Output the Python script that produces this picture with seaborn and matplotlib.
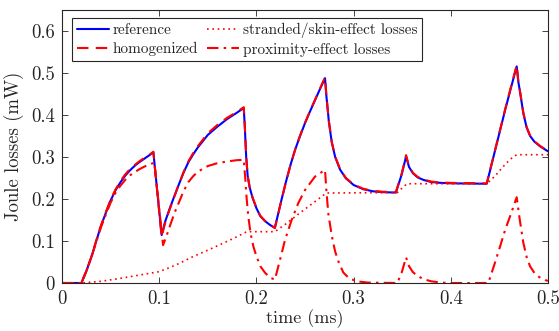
import matplotlib
matplotlib.use("Agg")
import matplotlib.pyplot as plt
import seaborn as sns
import pandas as pd

# time axis (ms) and losses (mW) for the total Joule losses
t_total = [0, 0.02, 0.025, 0.03, 0.035, 0.04, 0.045, 0.05, 0.055, 0.06, 0.065,
           0.07, 0.075, 0.08, 0.085, 0.09, 0.094, 0.1025, 0.106, 0.11, 0.115,
           0.12, 0.125, 0.13, 0.135, 0.14, 0.15, 0.16, 0.17, 0.18, 0.187,
           0.188, 0.1895, 0.191, 0.193, 0.196, 0.2, 0.204, 0.209, 0.214, 0.219,
           0.225, 0.23, 0.235, 0.24, 0.245, 0.25, 0.255, 0.26, 0.265, 0.2706,
           0.272, 0.2745, 0.2775, 0.281, 0.286, 0.292, 0.3, 0.31, 0.32, 0.33,
           0.3435, 0.3495, 0.354, 0.357, 0.361, 0.366, 0.372, 0.38, 0.39, 0.4,
           0.437, 0.445, 0.4506, 0.456, 0.462, 0.4678, 0.4695, 0.4712, 0.4746,
           0.478, 0.4815, 0.486, 0.4918, 0.5]
reference = [0, 0, 0.028, 0.060, 0.098, 0.135, 0.166, 0.196, 0.220, 0.239, 0.255,
             0.268, 0.279, 0.288, 0.296, 0.304, 0.311, 0.114, 0.145, 0.172, 0.203,
             0.233, 0.262, 0.287, 0.306, 0.323, 0.352, 0.372, 0.390, 0.405, 0.416,
             0.375, 0.300, 0.255, 0.228, 0.203, 0.178, 0.159, 0.147, 0.138, 0.131,
             0.190, 0.237, 0.280, 0.318, 0.350, 0.380, 0.407, 0.433, 0.459, 0.487,
             0.445, 0.385, 0.335, 0.300, 0.270, 0.249, 0.233, 0.223, 0.218, 0.216,
             0.215, 0.258, 0.301, 0.276, 0.261, 0.251, 0.245, 0.240, 0.238, 0.237,
             0.236, 0.310, 0.362, 0.412, 0.465, 0.515, 0.478, 0.455, 0.404,
             0.370, 0.350, 0.336, 0.325, 0.313]
homogenized = [0, 0, 0.029, 0.061, 0.099, 0.136, 0.168, 0.198, 0.222, 0.242, 0.258,
               0.271, 0.281, 0.290, 0.298, 0.305, 0.312, 0.110, 0.142, 0.170, 0.202,
               0.233, 0.263, 0.289, 0.309, 0.326, 0.356, 0.376, 0.393, 0.407, 0.418,
               0.378, 0.302, 0.256, 0.229, 0.204, 0.179, 0.160, 0.147, 0.138, 0.131,
               0.189, 0.236, 0.280, 0.318, 0.351, 0.381, 0.408, 0.434, 0.460, 0.489,
               0.447, 0.386, 0.336, 0.301, 0.271, 0.250, 0.234, 0.224, 0.219, 0.217,
               0.216, 0.260, 0.304, 0.278, 0.262, 0.252, 0.246, 0.241, 0.239, 0.238,
               0.237, 0.311, 0.363, 0.414, 0.467, 0.518, 0.480, 0.456, 0.405,
               0.371, 0.351, 0.337, 0.326, 0.314]

# stranded / skin-effect part
t_strand = [0, 0.02, 0.04, 0.06, 0.08, 0.1, 0.11, 0.12, 0.135, 0.15, 0.169, 0.18,
            0.19, 0.219, 0.23, 0.245, 0.26, 0.272, 0.345, 0.35, 0.355, 0.437,
            0.445, 0.454, 0.461, 0.4678, 0.5]
strand = [0, 0, 0.004, 0.011, 0.019, 0.027, 0.036, 0.046, 0.063, 0.078, 0.098, 0.110,
          0.122, 0.122, 0.140, 0.167, 0.193, 0.214, 0.215, 0.226, 0.236, 0.236,
          0.253, 0.277, 0.294, 0.305, 0.305]

# proximity-effect part
t_prox = [0, 0.02, 0.025, 0.03, 0.035, 0.04, 0.045, 0.05, 0.055, 0.06, 0.065, 0.07,
          0.075, 0.08, 0.085, 0.09, 0.095, 0.104, 0.108, 0.112, 0.116, 0.12, 0.125,
          0.13, 0.135, 0.14, 0.15, 0.16, 0.17, 0.18, 0.187, 0.1885, 0.19, 0.1917,
          0.194, 0.197, 0.2, 0.204, 0.209, 0.214, 0.219, 0.2243, 0.2294, 0.2363,
          0.2431, 0.25, 0.2603, 0.2706, 0.272, 0.274, 0.2775, 0.281, 0.2843, 0.2894,
          0.295, 0.303, 0.315, 0.345, 0.3495, 0.354, 0.357, 0.361, 0.365, 0.372,
          0.38, 0.39, 0.4, 0.4386, 0.445, 0.4506, 0.456, 0.462, 0.4678, 0.471,
          0.4746, 0.478, 0.4815, 0.486, 0.491, 0.497, 0.5]
prox = [0, 0, 0.028, 0.059, 0.096, 0.132, 0.162, 0.191, 0.214, 0.231, 0.245, 0.256,
        0.264, 0.271, 0.277, 0.282, 0.286, 0.090, 0.115, 0.142, 0.168, 0.190, 0.218,
        0.240, 0.254, 0.265, 0.278, 0.285, 0.289, 0.292, 0.293, 0.250, 0.200, 0.158,
        0.118, 0.086, 0.064, 0.040, 0.024, 0.013, 0.008, 0.055, 0.102, 0.150,
        0.190, 0.221, 0.253, 0.269, 0.220, 0.165, 0.113, 0.075, 0.052, 0.025,
        0.012, 0.004, 0.001, 0.0, 0.025, 0.061, 0.040, 0.026, 0.018, 0.009,
        0.004, 0.001, 0.0, 0.0, 0.045, 0.086, 0.127, 0.165, 0.204, 0.150,
        0.096, 0.062, 0.040, 0.024, 0.014, 0.007, 0.005]

labels = ["reference", "homogenized", "stranded/skin-effect losses",
          "proximity-effect losses"]
x_ticks = [0, 0.1, 0.2, 0.3, 0.4, 0.5]
y_ticks = [0, 0.1, 0.2, 0.3, 0.4, 0.5, 0.6]

sns.set_style("ticks")
plt.rcParams["font.family"] = ["cmr10", "DejaVu Serif"]
plt.rcParams["axes.formatter.use_mathtext"] = True
plt.rcParams["mathtext.fontset"] = "cm"

fig = plt.figure(figsize=(5.59, 3.31), dpi=100)
ax = fig.add_axes([0.1109, 0.145, 0.8694, 0.826])

df_tot = pd.DataFrame({"t": t_total, "ref": reference, "hom": homogenized})
df_s = pd.DataFrame({"t": t_strand, "v": strand})
df_p = pd.DataFrame({"t": t_prox, "v": prox})

sns.lineplot(data=df_tot, x="t", y="ref", ax=ax, color=(0, 0, 1), lw=1.5,
             estimator=None, sort=False, label=labels[0])
sns.lineplot(data=df_tot, x="t", y="hom", ax=ax, color=(1, 0, 0), lw=1.5,
             estimator=None, sort=False, label=labels[1])
ax.lines[-1].set_dashes([5.5, 3.5])
sns.lineplot(data=df_s, x="t", y="v", ax=ax, color=(1, 0, 0), lw=1.2,
             estimator=None, sort=False, label=labels[2])
ax.lines[-1].set_dashes([1, 2.2])
sns.lineplot(data=df_p, x="t", y="v", ax=ax, color=(1, 0, 0), lw=1.5,
             estimator=None, sort=False, label=labels[3])
ax.lines[-1].set_dashes([5.5, 2.5, 1.2, 2.5])

ax.set_xlim(0, 0.5)
ax.set_ylim(0, 0.65)
ax.set_xticks(x_ticks)
ax.set_yticks(y_ticks)
ax.set_xticklabels([f"{v:g}" for v in x_ticks])
ax.set_yticklabels([f"{v:g}" for v in y_ticks])

grey = (0.15, 0.15, 0.15)
for s in ax.spines.values():
    s.set_visible(True)
    s.set_color(grey)
    s.set_linewidth(0.8)
ax.tick_params(direction="in", length=4, width=0.6, top=True, right=True,
               colors=grey, labelsize=13.5, pad=5)
ax.set_xlabel("time (ms)", fontsize=13, color=grey, labelpad=1)
ax.set_ylabel("Joule losses (mW)", fontsize=13.5, color=grey, labelpad=5)

leg = ax.legend(loc="upper left", bbox_to_anchor=(0.0206, 0.969), ncol=2,
                fontsize=11.0, frameon=True, fancybox=False, borderaxespad=0,
                handlelength=2.1, handletextpad=0.25, columnspacing=0.6,
                labelspacing=0.3, borderpad=0.3)
leg.get_frame().set_edgecolor(grey)
leg.get_frame().set_linewidth(0.8)
leg.get_frame().set_alpha(1)

fig.savefig("out.png", dpi=100)
